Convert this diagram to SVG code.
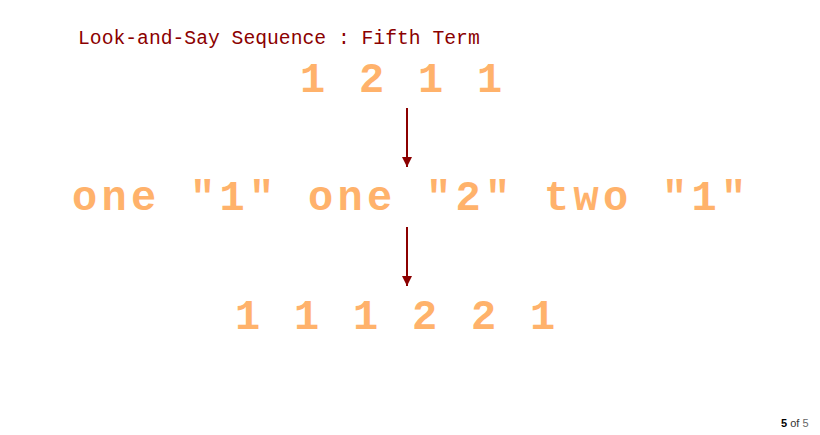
<svg xmlns="http://www.w3.org/2000/svg" width="820" height="435" viewBox="0 0 820 435">
<style>
.title{font-family:"Liberation Mono","Courier New",monospace;font-size:19.7px;fill:#8b0000}
.big{font-family:"Liberation Mono","Courier New",monospace;font-size:42px;letter-spacing:4.3px;font-weight:bold;fill:#ffb26b}
.conn{stroke:#8b0000;stroke-width:2;fill:none}
.pg{font-family:"Liberation Sans",Arial,sans-serif;font-size:11px}
</style>
<defs>
<marker id="ah" viewBox="0 0 10 10" refX="10" refY="5" markerWidth="5" markerHeight="5" orient="auto" markerUnits="strokeWidth">
<path d="M0,0 L10,5 L0,10 z" fill="#8b0000"/>
</marker>
</defs>
<rect width="820" height="435" fill="#ffffff"/>
<g id="title"><text class="title" x="78" y="44">Look-and-Say Sequence : Fifth Term</text></g>
<g id="term4"><text class="big" x="300" y="92">1 2 1 1</text></g>
<g id="description"><text class="big" x="72" y="210">one "1" one "2" two "1"</text></g>
<g id="term5"><text class="big" x="235" y="329">1 1 1 2 2 1</text></g>
<g id="connectors">
<line class="conn" x1="407" y1="108" x2="407" y2="167" marker-end="url(#ah)"/>
<line class="conn" x1="407" y1="227" x2="407" y2="286" marker-end="url(#ah)"/>
</g>
<g id="pager"><text class="pg" x="781" y="427"><tspan font-weight="bold" fill="#000">5</tspan><tspan fill="#333"> of </tspan><tspan fill="#666">5</tspan></text></g>
</svg>
